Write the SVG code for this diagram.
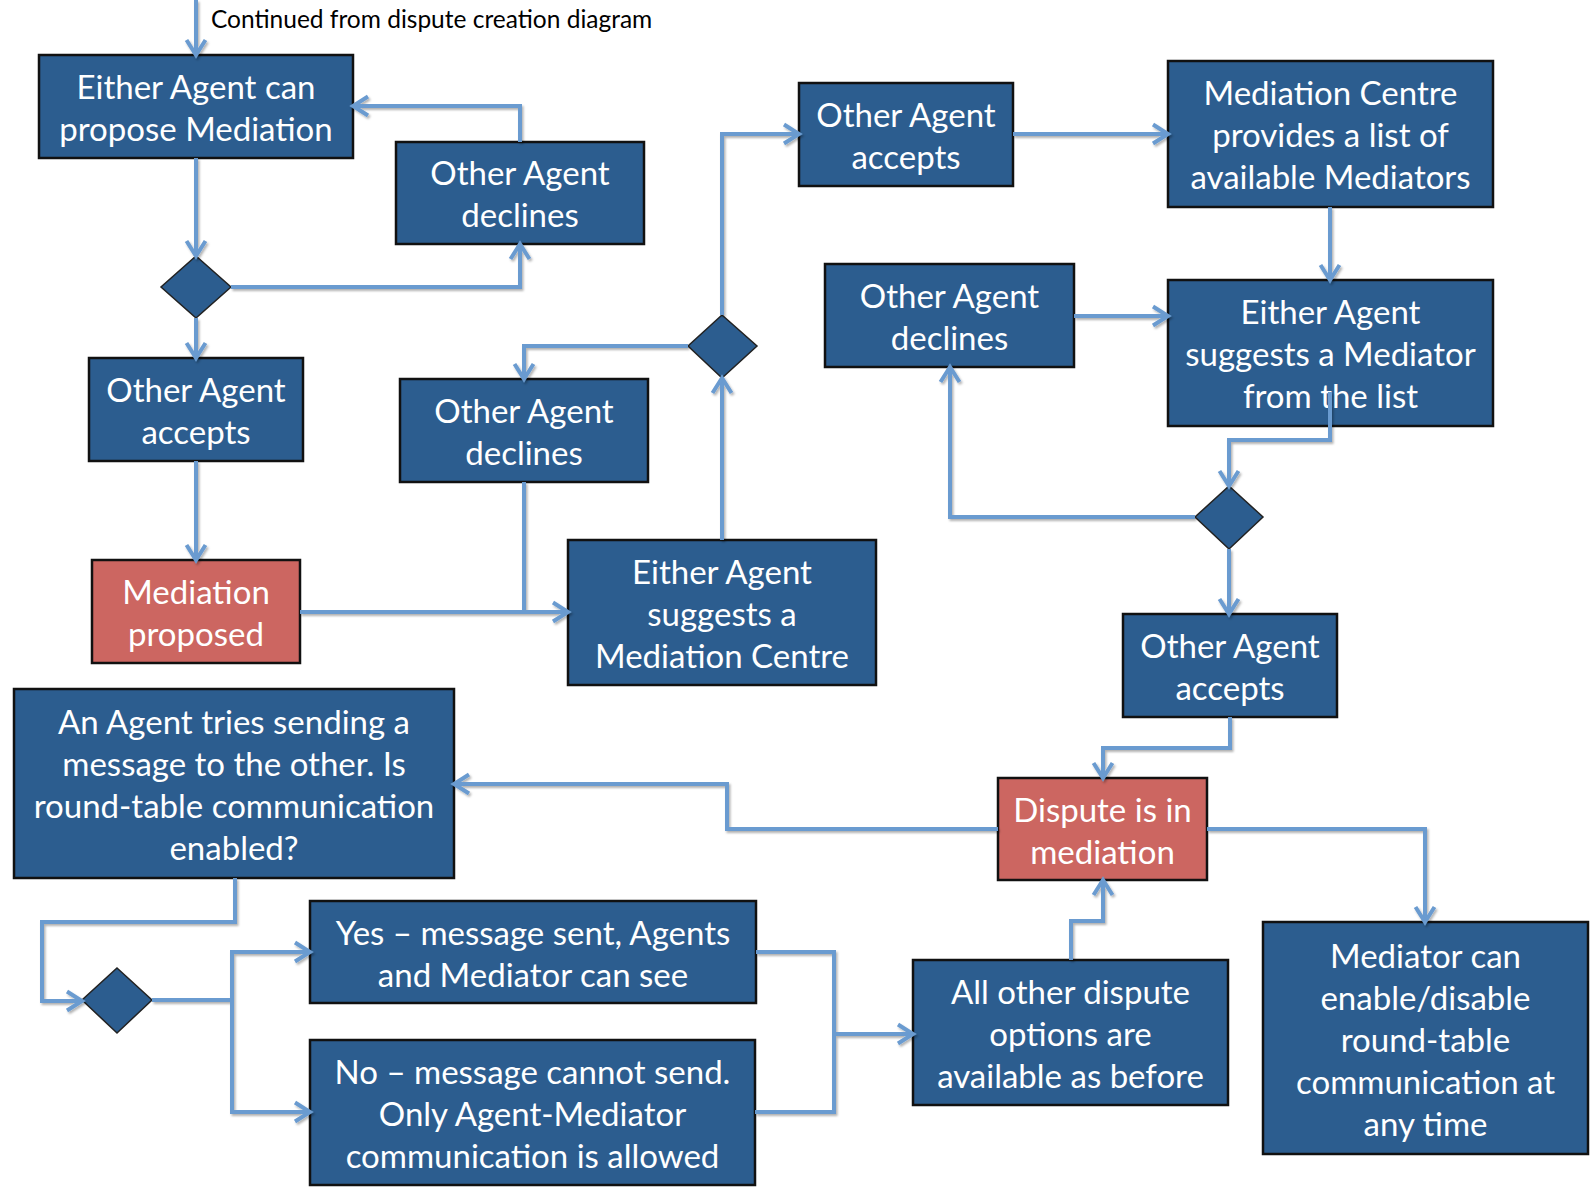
<svg xmlns="http://www.w3.org/2000/svg" width="1596" height="1194" viewBox="0 0 1596 1194">
<defs>
<style>
.box{fill:#2c5d8f;stroke:#111;stroke-width:2.5}
.red{fill:#cc6661;stroke:#111;stroke-width:2.5}
.dia{fill:#2c5d8f;stroke:#222;stroke-width:1.5}
.t{font-family:Lato,"Open Sans","Liberation Sans",sans-serif;font-size:33px;fill:#fff;text-anchor:middle}
.note{font-family:Lato,"Open Sans","Liberation Sans",sans-serif;font-size:24.5px;fill:#000}
.c{fill:none;stroke:#6a9bd0;stroke-width:4;stroke-linejoin:miter}
</style>
<marker id="ah" markerUnits="userSpaceOnUse" viewBox="-20 -14 26 28" refX="0" refY="0" markerWidth="26" markerHeight="28" orient="auto">
<path d="M-15,-9.5 L0,0 L-15,9.5" fill="none" stroke="#6a9bd0" stroke-width="4"/>
</marker>
<filter id="sh" x="-5%" y="-5%" width="110%" height="110%">
<feDropShadow dx="1.5" dy="2" stdDeviation="1.2" flood-color="#000" flood-opacity="0.3"/>
</filter>
</defs>
<rect width="1596" height="1194" fill="#fff"/>
<text class="note" x="211" y="28">Continued from dispute creation diagram</text>

<g id="n-propose"><rect class="box" x="39" y="55" width="314" height="103"/><text class="t" x="196" y="99">Either Agent can</text><text class="t" x="196" y="141">propose Mediation</text></g>
<g id="n-declines1"><rect class="box" x="396" y="142" width="248" height="102"/><text class="t" x="520" y="185">Other Agent</text><text class="t" x="520" y="227">declines</text></g>
<g id="d1"><polygon class="dia" points="196,256 231,287 196,318 161,287"/></g>
<g id="n-accepts1"><rect class="box" x="89" y="358" width="214" height="103"/><text class="t" x="196" y="402">Other Agent</text><text class="t" x="196" y="444">accepts</text></g>
<g id="n-medprop"><rect class="red" x="92" y="560" width="208" height="103"/><text class="t" x="196" y="604">Mediation</text><text class="t" x="196" y="646">proposed</text></g>
<g id="n-declines2"><rect class="box" x="400" y="379" width="248" height="103"/><text class="t" x="524" y="423">Other Agent</text><text class="t" x="524" y="465">declines</text></g>
<g id="d2"><polygon class="dia" points="722,315 757,346 722,378 688,346"/></g>
<g id="n-suggestcentre"><rect class="box" x="568" y="540" width="308" height="145"/><text class="t" x="722" y="584">Either Agent</text><text class="t" x="722" y="626">suggests a</text><text class="t" x="722" y="668">Mediation Centre</text></g>
<g id="n-accepts2"><rect class="box" x="799" y="83" width="214" height="103"/><text class="t" x="906" y="127">Other Agent</text><text class="t" x="906" y="169">accepts</text></g>
<g id="n-centrelist"><rect class="box" x="1168" y="61" width="325" height="146"/><text class="t" x="1330.5" y="105">Mediation Centre</text><text class="t" x="1330.5" y="147">provides a list of</text><text class="t" x="1330.5" y="189">available Mediators</text></g>
<g id="n-declines3"><rect class="box" x="825" y="264" width="249" height="103"/><text class="t" x="949.5" y="308">Other Agent</text><text class="t" x="949.5" y="350">declines</text></g>
<g id="n-suggestmed"><rect class="box" x="1168" y="280" width="325" height="146"/><text class="t" x="1330.5" y="324">Either Agent</text><text class="t" x="1330.5" y="366">suggests a Mediator</text><text class="t" x="1330.5" y="408">from the list</text></g>
<g id="d3"><polygon class="dia" points="1229,486 1263,517 1229,549 1195,517"/></g>
<g id="n-accepts3"><rect class="box" x="1123" y="614" width="214" height="103"/><text class="t" x="1230" y="658">Other Agent</text><text class="t" x="1230" y="700">accepts</text></g>
<g id="n-inmed"><rect class="red" x="998" y="778" width="209" height="102"/><text class="t" x="1102.5" y="822">Dispute is in</text><text class="t" x="1102.5" y="864">mediation</text></g>
<g id="n-tries"><rect class="box" x="14" y="689" width="440" height="189"/><text class="t" x="234" y="734">An Agent tries sending a</text><text class="t" x="234" y="776">message to the other. Is</text><text class="t" x="234" y="818">round-table communication</text><text class="t" x="234" y="860">enabled?</text></g>
<g id="d4"><polygon class="dia" points="117,968 152,1000 117,1033 82,1000"/></g>
<g id="n-yes"><rect class="box" x="310" y="901" width="446" height="102"/><text class="t" x="533" y="945">Yes – message sent, Agents</text><text class="t" x="533" y="987">and Mediator can see</text></g>
<g id="n-no"><rect class="box" x="310" y="1040" width="445" height="145"/><text class="t" x="532.5" y="1084">No – message cannot send.</text><text class="t" x="532.5" y="1126">Only Agent-Mediator</text><text class="t" x="532.5" y="1168">communication is allowed</text></g>
<g id="n-options"><rect class="box" x="913" y="960" width="315" height="145"/><text class="t" x="1070.5" y="1004">All other dispute</text><text class="t" x="1070.5" y="1046">options are</text><text class="t" x="1070.5" y="1088">available as before</text></g>
<g id="n-mediatorcan"><rect class="box" x="1263" y="922" width="325" height="232"/><text class="t" x="1425.5" y="968">Mediator can</text><text class="t" x="1425.5" y="1010">enable/disable</text><text class="t" x="1425.5" y="1052">round-table</text><text class="t" x="1425.5" y="1094">communication at</text><text class="t" x="1425.5" y="1136">any time</text></g>

<g id="connectors" filter="url(#sh)">
<path class="c" d="M196,0 V55" marker-end="url(#ah)"/>
<path class="c" d="M196,158 V256" marker-end="url(#ah)"/>
<path class="c" d="M231,287 H520 V244" marker-end="url(#ah)"/>
<path class="c" d="M520,142 V106 H353" marker-end="url(#ah)"/>
<path class="c" d="M196,318 V358" marker-end="url(#ah)"/>
<path class="c" d="M196,461 V560" marker-end="url(#ah)"/>
<path class="c" d="M524,482 V612"/>
<path class="c" d="M300,612 H568" marker-end="url(#ah)"/>
<path class="c" d="M722,540 V378" marker-end="url(#ah)"/>
<path class="c" d="M688,346 H524 V379" marker-end="url(#ah)"/>
<path class="c" d="M722,315 V134 H799" marker-end="url(#ah)"/>
<path class="c" d="M1013,134 H1168" marker-end="url(#ah)"/>
<path class="c" d="M1330,207 V280" marker-end="url(#ah)"/>
<path class="c" d="M1330,392 V440 H1229 V486" marker-end="url(#ah)"/>
<path class="c" d="M1195,517 H950 V367" marker-end="url(#ah)"/>
<path class="c" d="M1074,316 H1168" marker-end="url(#ah)"/>
<path class="c" d="M1229,549 V614" marker-end="url(#ah)"/>
<path class="c" d="M1230,717 V748 H1103 V778" marker-end="url(#ah)"/>
<path class="c" d="M998,829 H727 V784 H454" marker-end="url(#ah)"/>
<path class="c" d="M1207,829 H1425 V922" marker-end="url(#ah)"/>
<path class="c" d="M1071,960 V921 H1103 V880" marker-end="url(#ah)"/>
<path class="c" d="M235,878 V922 H42 V1001 H82" marker-end="url(#ah)"/>
<path class="c" d="M152,1000 H232 V952 H310" marker-end="url(#ah)"/>
<path class="c" d="M232,1000 V1112 H310" marker-end="url(#ah)"/>
<path class="c" d="M756,952 H834 V1112 H755"/>
<path class="c" d="M834,1034 H913" marker-end="url(#ah)"/>
</g>
</svg>
